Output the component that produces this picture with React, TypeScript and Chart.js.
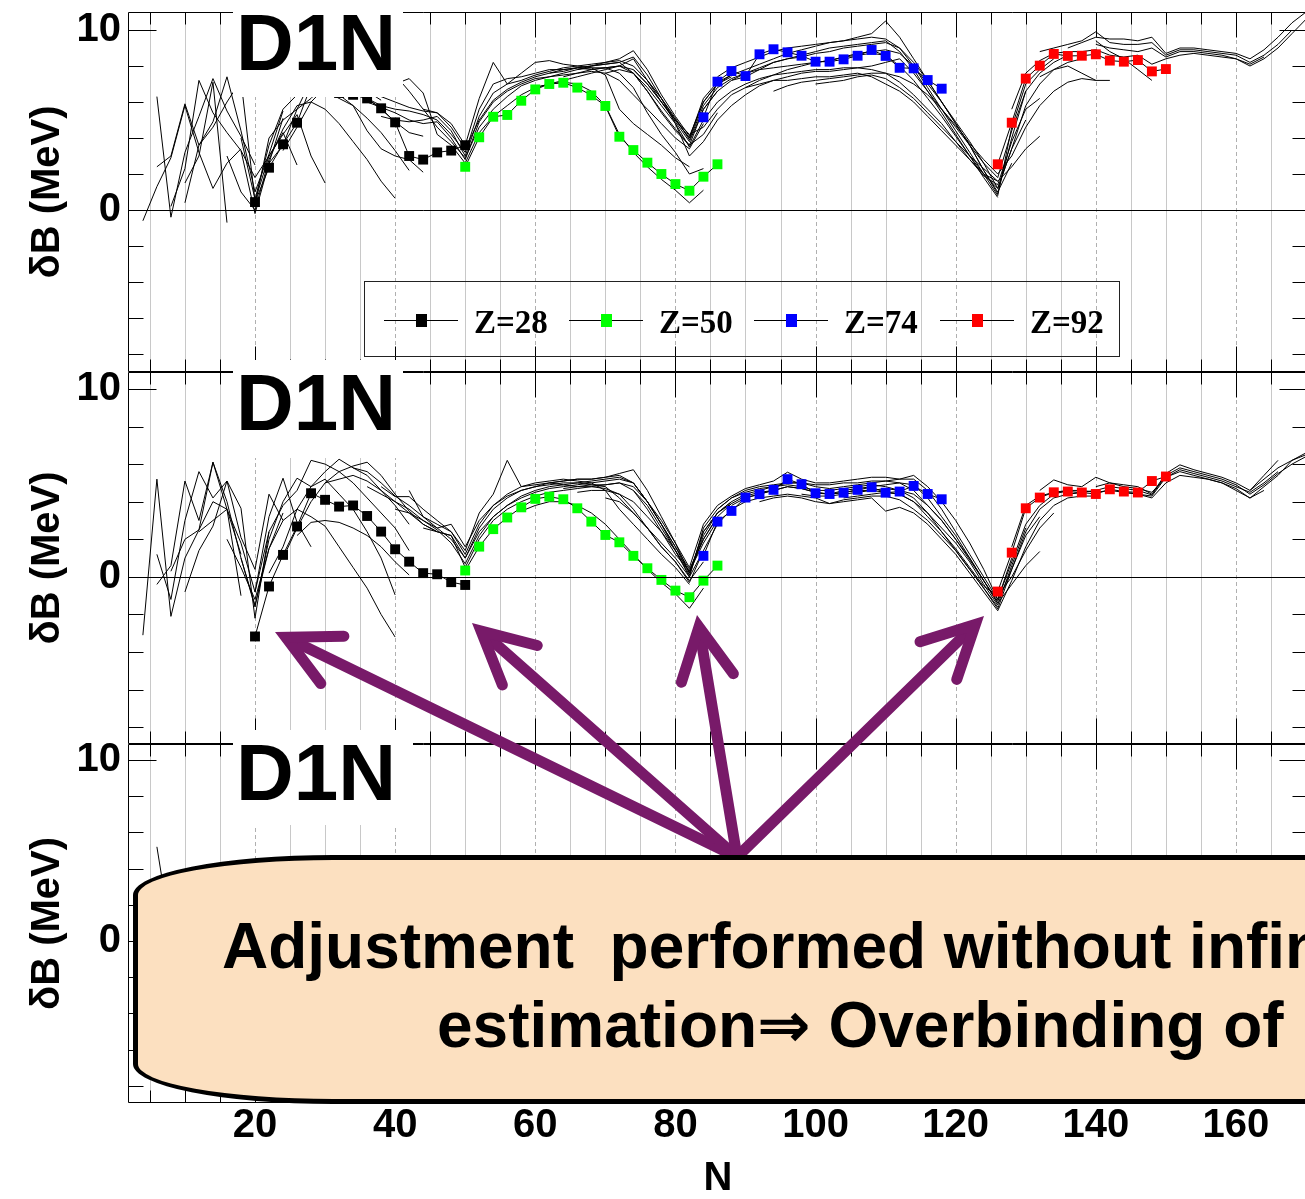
import React, { useEffect, useRef } from "react";
import { Chart, registerables } from "chart.js";

Chart.register(...registerables);

const FONT = '"Liberation Sans", Arial, Helvetica, sans-serif';
const SERIF = '"Liberation Serif", "Times New Roman", serif';

// ---------- axes ----------
const N_MIN = 1.875;
const N_MAX = 170.28;
const N_TICKS = [20, 40, 60, 80, 100, 120, 140, 160];
const DB_TICKS = [-8, -6, -4, -2, 0, 2, 4, 6, 8, 10];
const DB_LABELLED = [10, 0];
const PANEL_MIN = [-9, -8.89, -8.95];
const PANEL_MAX = [11, 10.9, 10.88];
const AXIS_IDS = ["y1", "y2", "y3"];

// ---------- legend ----------
const LEGEND_LABELS = ["Z=28", "Z=50", "Z=74", "Z=92"];
const SERIES_COLORS = ["#000000", "#00ff00", "#0000ff", "#ff0000"];

// ---------- marked chains (panel 1) ----------
const Z28_N = [20, 22, 24, 26, 28, 30, 32, 34, 36, 38, 40, 42, 44, 46, 48, 50];
const Z50_N = [50, 52, 54, 56, 58, 60, 62, 64, 66, 68, 70, 72, 74, 76, 78, 80, 82, 84, 86];
const Z74_N = [84, 86, 88, 90, 92, 94, 96, 98, 100, 102, 104, 106, 108, 110, 112, 114, 116, 118];
const Z92_N = [126, 128, 130, 132, 134, 136, 138, 140, 142, 144, 146, 148, 150];

const P1_Z28 = [0.44, 2.35, 3.65, 4.85, 6.9, 6.7, 6.5, 6.4, 6.2, 5.65, 4.87, 3.0, 2.8, 3.2, 3.3, 3.6];
const P1_Z50 = [2.4, 4.04, 5.18, 5.28, 6.07, 6.7, 7.0, 7.07, 6.8, 6.37, 5.78, 4.07, 3.33, 2.63, 2.0, 1.44, 1.07, 1.85, 2.54];
const P1_Z74 = [5.15, 7.13, 7.72, 7.44, 8.65, 8.93, 8.76, 8.57, 8.24, 8.24, 8.37, 8.57, 8.89, 8.56, 7.9, 7.87, 7.22, 6.74];
const P1_Z92 = [2.54, 4.85, 7.3, 8.02, 8.67, 8.56, 8.57, 8.65, 8.3, 8.24, 8.33, 7.7, 7.83];

// ---------- marked chains (panel 2) ----------
const P2_Z28 = [-3.17, -0.51, 1.17, 2.68, 4.45, 4.1, 3.74, 3.8, 3.24, 2.41, 1.47, 0.81, 0.2, 0.14, -0.28, -0.43];
const P2_Z50 = [0.34, 1.61, 2.54, 3.16, 3.7, 4.15, 4.27, 4.13, 3.65, 2.94, 2.23, 1.84, 1.12, 0.46, -0.16, -0.73, -1.08, -0.2, 0.6];
const P2_Z74 = [1.12, 2.94, 3.51, 4.22, 4.4, 4.63, 5.2, 4.93, 4.45, 4.41, 4.48, 4.63, 4.77, 4.48, 4.54, 4.84, 4.41, 4.13];
const P2_Z92 = [-0.78, 1.29, 3.65, 4.22, 4.5, 4.54, 4.49, 4.41, 4.66, 4.54, 4.49, 5.1, 5.34];

// ---------- other isotopic chains (first N, then values every 2 neutrons) ----------
const P1_STARTS = [4, 6, 6, 8, 10, 10, 16, 18, 18, 20, 22, 24, 30, 34, 36, 38, 40, 40, 44, 60, 62, 64, 66, 70, 74, 76, 86, 88, 90, 94, 100, 128, 132, 136, 140, 132, 140];
const P1_VALUES = [
  [-0.6, 1.3, 2.9, 5.8, 3.2, 1.2, 2.6, 3.4],
  [6.3, -0.4, 3.2, 5.2, 7.3, 5.5, 4.1, 2.5],
  [2.4, 3.0, 5.9, 3.6, 4.9, 7.4, 4.4, 1.0, 3.1, 5.5],
  [0.2, 2.3, 7.2, 5.4, 4.3, 3.3, -0.2, 2.6, 5.1],
  [0.4, 3.6, 4.6, 6.0, 7.2, 0.5, 3.0, 4.3, 2.5],
  [1.5, 3.0, 7.1, -0.7],
  [3.0, 1.0, 0.0, 2.8, 4.5, 5.8, 6.0, 5.6, 4.8, 3.8, 2.8, 1.6, 0.65],
  [4.0, 0.6, 3.6, 5.6, 6.4, 6.8, 6.6, 6.2, 5.8, 5.1, 4.3, 3.3, 2.2],
  [3.3, 1.8, 3.0, 4.2, 5.3, 3.0, 1.5],
  [0.3, 4.0, 5.0, 5.6, 6.2, 7.0, 7.2, 7.0, 6.6, 6.1],
  [2.6, 3.6, 5.6, 7.2, 7.1, 6.6, 6.4, 6.2, 5.6, 4.9, 4.3, 4.1],
  [3.3, 4.6, 6.0, 6.8, 6.4, 5.8, 4.4, 3.4, 3.0, 2.8, 2.1],
  [6.8, 6.6, 6.5, 6.2, 5.8, 5.6, 5.5, 5.3, 5.0, 4.2, 3.2, 5.6, 7.0, 7.3, 7.4, 7.6, 7.8, 7.8, 7.9, 7.8, 7.9, 8.0, 8.4, 7.2, 6.0, 4.9, 3.8, 5.6, 6.6],
  [7.0, 6.6, 6.3, 6.0, 5.7, 5.5, 5.4, 4.8, 3.6, 6.2, 8.2, 7.0, 7.2, 7.5, 7.7, 7.9, 8.0, 8.1, 8.2, 8.4, 8.85, 7.8, 6.4, 5.2, 4.1, 6.0, 7.0, 7.4],
  [6.0, 5.7, 5.4, 5.0, 4.8, 4.9, 4.0, 2.8, 4.9, 6.0, 6.6, 7.0, 7.3, 7.4, 7.5, 7.6, 7.7, 7.6, 7.2, 6.4, 5.6, 4.8, 4.0, 3.4, 4.8],
  [5.2, 5.0, 4.9, 5.0, 5.2, 4.4, 3.0, 5.2, 6.5, 7.0, 7.6, 8.2, 8.3, 8.1, 8.0, 7.9, 7.5, 5.6, 4.8, 4.2, 3.6, 2.9, 2.4],
  [7.0, 7.3, 6.5, 4.2, 3.6, 2.6, 4.3, 5.2, 5.8, 6.4, 6.8, 7.0, 7.2, 7.4, 7.6, 7.8, 8.0, 7.6, 6.6, 5.4, 4.4, 3.6, 4.2, 5.4],
  [7.5, 6.6, 5.6, 4.6, 3.8, 2.9, 4.6, 5.6, 6.3, 6.9, 7.2, 7.4, 7.6, 7.8, 7.9, 7.9, 7.6, 6.8, 5.4, 4.2, 3.2, 2.0, 2.3],
  [5.6, 5.4, 4.6, 3.4, 5.0, 6.1, 6.7, 7.1, 7.4, 7.6, 7.7, 7.9, 8.0, 8.1, 8.2, 8.5, 7.5, 6.2, 5.0, 4.0, 6.2, 7.1, 7.5],
  [6.8, 7.0, 7.1, 7.0, 6.6, 5.8, 4.2, 3.2, 2.4, 1.7, 1.1, 0.4, 1.1],
  [7.6, 7.8, 7.9, 8.0, 8.1, 8.2, 7.6, 6.6, 5.5, 4.5, 3.6, 5.6, 6.6, 7.2, 7.6, 7.9, 8.2, 8.4, 8.6, 8.8, 9.0, 9.1, 9.2, 9.3, 9.4, 8.8, 7.8, 6.6, 5.4, 4.2, 3.0, 1.8, 0.7],
  [7.4, 7.6, 7.8, 7.9, 8.0, 7.8, 7.0, 6.0, 5.0, 4.0, 6.0, 7.0, 7.5, 7.8, 8.1, 8.4, 8.7, 8.9, 9.1, 9.3, 9.4, 9.6, 9.8, 10.5, 9.6, 8.4, 7.2, 6.0, 4.8, 3.6, 2.2, 1.0, 2.6],
  [7.8, 8.0, 8.2, 8.3, 8.0, 7.2, 6.2, 5.1, 3.9, 5.8, 6.8, 7.3, 7.6, 7.8, 7.9, 8.0, 8.1, 8.2, 8.3, 8.5, 8.6, 8.7, 8.6, 8.0, 7.2, 6.2, 5.2, 4.1, 3.0, 2.0, 1.2, 3.4, 5.0],
  [7.6, 7.8, 7.6, 6.8, 5.8, 4.8, 3.5, 5.0, 6.0, 6.6, 7.0, 7.3, 7.5, 7.6, 7.7, 7.8, 7.8, 7.9, 7.9, 7.8, 7.6, 7.1, 6.4, 5.6, 4.8, 3.8, 2.8, 1.9, 1.4, 3.8, 5.6, 6.2],
  [7.8, 7.0, 6.0, 5.0, 4.2, 4.6, 5.6, 6.4, 6.8, 7.0, 7.2, 7.2, 7.3, 7.4, 7.4, 7.5, 7.6, 7.4, 7.0, 6.6, 6.0, 5.2, 4.4, 3.6, 2.8, 2.0, 1.6],
  [7.2, 6.2, 4.8, 3.0, 3.8, 5.0, 5.8, 6.4, 6.9, 7.2, 7.4, 7.6, 7.7, 7.7, 7.8, 7.9, 8.0, 8.2, 8.4, 7.6, 6.6, 5.6, 4.6, 3.6, 2.6, 1.8, 4.4, 6.6],
  [7.4, 7.9, 8.2, 8.5, 8.8, 9.0, 9.1, 9.2, 9.3, 9.4, 9.5, 9.6, 9.5, 9.0, 8.0, 6.8, 5.6, 4.4, 3.2, 2.0, 0.8, 4.6, 7.0, 7.8, 8.4],
  [7.2, 7.4, 7.8, 8.2, 8.4, 8.5, 8.7, 8.8, 9.0, 9.1, 9.2, 9.3, 9.0, 8.2, 7.2, 6.0, 4.8, 3.6, 2.2, 0.9, 4.0, 6.6, 7.6, 8.2, 8.6],
  [6.8, 7.2, 7.5, 7.8, 8.0, 8.2, 8.3, 8.5, 8.7, 8.8, 8.9, 8.7, 8.0, 7.0, 6.0, 4.9, 3.8, 2.6, 1.2, 3.4, 5.8, 7.0, 7.8, 8.2, 8.4],
  [6.6, 6.9, 7.1, 7.2, 7.3, 7.4, 7.5, 7.6, 7.6, 7.4, 7.0, 6.4, 5.6, 4.7, 3.7, 2.8, 2.0, 3.0, 4.6, 5.8, 6.6, 7.1, 7.3, 7.2],
  [7.0, 7.1, 7.2, 7.4, 7.5, 7.3, 6.8, 6.2, 5.4, 4.6, 3.8, 3.0, 2.3, 1.6, 2.4, 3.4, 4.1],
  [5.6, 7.6, 8.3, 8.7, 8.8, 8.8, 8.9, 8.6, 8.5, 8.6, 8.1, 8.4, 8.6, 8.7, 8.6, 8.5, 8.4, 8.1, 8.5],
  [8.8, 9.0, 9.2, 9.4, 9.9, 9.3, 9.2, 9.2, 9.3, 8.6, 8.9, 8.9, 8.8, 8.7, 8.6, 8.2, 8.6, 9.2, 10.0],
  [9.0, 9.3, 9.6, 9.5, 9.5, 9.4, 9.6, 8.7, 9.0, 9.0, 8.9, 8.8, 8.7, 8.4, 8.9, 9.6, 10.4, 11.0],
  [9.2, 9.0, 8.9, 8.8, 9.0, 8.5, 8.8, 8.8, 8.7, 8.6, 8.4, 8.0, 8.4, 9.0, 9.8, 10.6],
  [7.4, 7.8, 8.0, 7.6, 7.2, 7.2],
  [9.4, 8.8, 8.4, 7.8, 7.2],
];

const P2_STARTS = [4, 6, 6, 8, 10, 12, 16, 18, 20, 22, 24, 26, 30, 34, 36, 38, 40, 42, 44, 58, 62, 64, 66, 70, 74, 86, 88, 92, 98, 104, 128, 132, 136, 140, 144, 162];
const P2_VALUES = [
  [-3.1, 5.2, -2.1, 1.0, 2.5, 4.0, 3.6, 1.2],
  [-0.4, 0.6, 5.1, 3.0, 6.1, 3.6, -1.0],
  [1.2, -1.2, 3.0, 5.6, 4.2, 5.1, 3.65, -2.2, 2.4],
  [0.3, 2.0, 2.5, 6.1, 4.0, 1.0, -1.5, 1.5, 3.4],
  [-0.8, 1.4, 2.7, 5.1, 2.1, 0.4, 4.4, 3.0],
  [2.4, 3.0, 3.6, 1.8, -0.8, 3.2, 5.25, 2.9, 1.6],
  [2.0, 0.5, -1.2, 1.5, 3.0, 3.6, 3.2, 2.7, 1.6, 0.5, -0.6, -2.0, -3.2],
  [1.0, -1.6, 2.0, 4.0, 5.25, 4.8, 5.2, 4.4, 3.6, 2.4, 1.0, -0.96],
  [-0.8, 2.4, 3.8, 4.6, 6.2, 6.0, 5.6, 5.0, 4.2, 3.4, 2.6, 1.4],
  [0.2, 1.6, 3.6, 4.8, 5.6, 6.26, 5.8, 5.4, 4.6, 3.8, 2.8],
  [1.0, 2.6, 4.0, 5.0, 5.6, 5.9, 6.1, 5.4, 4.4, 3.5, 2.8, 2.4],
  [2.2, 2.9, 3.0, 2.9, 2.6, 2.2, 1.6, 0.8, 0.1],
  [5.0, 5.2, 5.4, 5.1, 4.6, 4.0, 3.4, 3.0, 2.6, 2.0, 1.0, 2.6, 3.6, 4.2, 4.6, 4.8, 4.9, 5.0, 5.0, 5.1, 5.2, 5.3, 5.0, 4.0, 2.8, 1.6, 0.4, 2.0, 3.2],
  [5.8, 5.6, 5.0, 4.3, 3.8, 3.2, 2.8, 2.4, 1.4, 3.4, 4.4, 6.2, 4.8, 4.9, 5.0, 5.1, 5.2, 5.2, 5.3, 5.5, 5.7, 4.6, 3.2, 1.8, 0.2, 2.4, 3.4, 3.9],
  [4.8, 4.4, 4.0, 3.6, 3.0, 2.5, 1.8, 0.7, 2.2, 3.2, 3.8, 4.3, 4.6, 4.8, 4.9, 5.0, 4.9, 4.8, 4.2, 3.4, 2.6, 1.8, 1.0, 0.0, 1.4],
  [4.8, 4.27, 4.27, 3.6, 3.0, 2.4, 1.2, 2.8, 3.8, 4.4, 4.8, 5.0, 5.1, 5.2, 5.1, 5.0, 4.6, 3.6, 2.8, 2.0, 1.2, 0.5, -0.4],
  [3.6, 3.4, 2.8, 2.4, 2.2, 0.5, 2.0, 3.0, 3.6, 4.0, 4.3, 4.5, 4.6, 4.7, 4.8, 4.9, 5.0, 4.6, 3.6, 2.4, 1.2, 0.3, 1.8, 3.0],
  [4.6, 3.2, 2.6, 2.8, 1.6, 3.0, 3.8, 4.3, 4.6, 4.8, 5.0, 4.9, 4.8, 4.8, 4.7, 4.4, 3.6, 2.6, 1.6, 0.8, -0.2, 0.8],
  [2.6, 2.4, 2.2, 1.0, 2.4, 3.2, 3.8, 4.2, 4.5, 4.7, 4.8, 4.9, 5.0, 5.1, 5.2, 5.0, 4.0, 2.8, 1.4, 0.1, 2.2, 3.4, 4.0],
  [3.5, 3.8, 4.0, 4.0, 3.8, 3.4, 2.8, 2.0, 1.2, 0.4, -0.3, -0.9, -1.67, -0.6],
  [5.0, 5.1, 5.2, 5.2, 5.3, 5.4, 5.0, 4.0, 2.8, 1.6, 0.2, 2.4, 3.4, 4.0, 4.4, 4.6, 4.8, 5.0, 5.0, 4.9, 4.9, 5.0, 5.0, 5.1, 5.1, 5.0, 4.6, 3.8, 3.0, 2.0, 1.0, -0.2, -1.4],
  [4.7, 4.8, 4.9, 4.9, 5.0, 4.8, 4.0, 3.0, 1.8, 0.5, 2.8, 3.8, 4.3, 4.7, 4.9, 5.1, 5.57, 5.2, 5.0, 5.0, 5.1, 5.2, 5.3, 5.3, 5.2, 5.4, 4.8, 4.0, 3.0, 1.8, 0.4, -1.2, 1.0],
  [4.5, 4.6, 4.6, 4.4, 4.0, 3.2, 2.4, 1.4, 0.3, 2.0, 3.2, 3.9, 4.3, 4.5, 4.6, 4.8, 4.7, 4.5, 4.4, 4.5, 4.6, 4.6, 4.5, 4.4, 4.0, 3.4, 2.6, 1.8, 0.8, -0.4, -1.5, 0.6, 2.6],
  [4.2, 4.0, 3.4, 2.6, 1.6, 0.8, -0.3, 1.4, 2.8, 3.6, 4.0, 4.2, 4.3, 4.4, 4.3, 4.2, 3.9, 4.1, 4.2, 4.3, 4.3, 4.1, 3.6, 3.0, 2.2, 1.4, 0.4, -0.6, -1.7, 0.4, 2.2, 3.2],
  [4.6, 3.8, 2.6, 1.4, 0.0, 2.6, 3.6, 4.2, 4.5, 4.7, 4.8, 4.9, 4.8, 4.6, 4.6, 4.7, 4.8, 4.9, 4.8, 4.6, 4.2, 3.4, 2.4, 1.4, 0.4, -0.6, -1.6],
  [3.6, 4.2, 4.6, 4.8, 4.9, 5.0, 5.0, 4.8, 4.7, 4.8, 4.9, 5.0, 5.1, 5.2, 5.2, 4.6, 3.6, 2.4, 1.2, 0.0, -1.2, 0.8, 2.8, 3.8, 4.4, 4.6],
  [3.8, 4.2, 4.4, 4.6, 4.8, 4.7, 4.5, 4.4, 4.6, 4.7, 4.8, 4.9, 5.0, 4.9, 4.2, 3.2, 2.2, 1.0, -0.2, -1.3, 0.4, 2.4, 3.6, 4.2, 4.4, 4.5],
  [4.0, 4.2, 4.3, 4.2, 4.0, 3.9, 4.0, 4.1, 4.2, 3.5, 3.7, 3.4, 2.8, 2.0, 1.2, 0.2, -0.8, -1.8, -0.2, 1.6, 3.0, 3.8, 4.2, 4.3, 4.3],
  [4.4, 4.3, 4.3, 4.4, 4.5, 4.6, 4.7, 4.6, 4.4, 3.8, 3.0, 2.0, 0.9, -0.2, -1.4, -0.4, 0.6, 1.35],
  [4.2, 4.3, 4.4, 4.5, 4.4, 4.0, 3.2, 2.4, 1.5, 0.5, -0.5, -1.0, 0.0, 1.4, 2.6, 3.4],
  [1.6, 3.8, 4.3, 4.5, 4.6, 4.6, 4.5, 4.6, 4.5, 4.4, 4.3, 5.3, 5.7, 5.5, 5.3, 5.1, 4.8, 4.5, 5.0, 5.6],
  [4.6, 5.16, 4.9, 4.8, 5.3, 5.0, 4.9, 4.8, 4.4, 5.5, 5.96, 5.7, 5.5, 5.3, 5.0, 4.6, 5.2, 5.8, 6.2, 6.5],
  [4.4, 4.5, 4.6, 4.8, 4.7, 4.6, 4.36, 5.4, 5.8, 5.6, 5.4, 5.2, 4.9, 4.4, 4.9, 5.5, 6.0, 6.4],
  [4.8, 5.0, 4.8, 4.7, 4.5, 5.3, 5.6, 5.4, 5.2, 5.0, 4.7, 4.19, 4.8, 5.4, 6.2, 6.6],
  [4.5, 4.4, 4.2, 5.0, 5.4, 5.3, 5.2, 5.0, 4.6, 4.2, 4.6],
  [4.6, 5.4, 6.2],
];

const P3_STARTS = [6];
const P3_VALUES = [[5.2, 0.4, 2.2, 3.0, 1.4]];

// ---------- annotations (pixel layout) ----------
const D1N_BOXES = [
  { x: 233, y: 0, w: 170, h: 97, base: 70 },
  { x: 233, y: 360, w: 170, h: 98, base: 430 },
  { x: 233, y: 730, w: 180, h: 95, base: 800 },
];
const LEGEND_X = [384, 569, 754, 940];
const ARROW_FROM = [737, 857];
const ARROW_TIPS = [
  [275, 632],
  [472, 623],
  [697, 615],
  [984, 616],
];

function chainSets(starts: number[], values: number[][], axis: string) {
  return values.map((vals, i) => ({
    data: vals.map((v, k) => ({ x: starts[i] + 2 * k, y: v })),
    yAxisID: axis,
    xAxisID: "x",
    borderColor: "#000",
    borderWidth: 1,
    pointRadius: 0,
    pointHoverRadius: 0,
    tension: 0,
    fill: false,
    order: 2,
  }));
}

function markedSet(ns: number[], vals: number[], color: string, axis: string) {
  return {
    data: vals.map((v, k) => ({ x: ns[k], y: v })),
    yAxisID: axis,
    xAxisID: "x",
    borderColor: "#000",
    borderWidth: 1,
    pointStyle: "rect",
    pointRadius: 7,
    pointHoverRadius: 7,
    pointBackgroundColor: color,
    pointBorderColor: color,
    pointBorderWidth: 0,
    tension: 0,
    fill: false,
    order: 1,
  };
}

function drawArrow(ctx: CanvasRenderingContext2D, from: number[], tip: number[]) {
  const back = Math.atan2(from[1] - tip[1], from[0] - tip[0]);
  const half = (27 * Math.PI) / 180;
  const arm = 58;
  const w = 11;
  const inset = w / 2 / Math.sin(half);
  const tx = tip[0] + inset * Math.cos(back);
  const ty = tip[1] + inset * Math.sin(back);
  ctx.lineWidth = w;
  ctx.lineCap = "round";
  ctx.lineJoin = "round";
  ctx.beginPath();
  ctx.moveTo(from[0], from[1]);
  ctx.lineTo(tx + 6 * Math.cos(back), ty + 6 * Math.sin(back));
  ctx.stroke();
  ctx.lineJoin = "miter";
  ctx.miterLimit = 10;
  ctx.beginPath();
  ctx.moveTo(tx + arm * Math.cos(back - half), ty + arm * Math.sin(back - half));
  ctx.lineTo(tx, ty);
  ctx.lineTo(tx + arm * Math.cos(back + half), ty + arm * Math.sin(back + half));
  ctx.stroke();
}

const panelPlugin = {
  id: "panels",
  beforeDatasetsDraw(chart: any) {
    const ctx = chart.ctx as CanvasRenderingContext2D;
    const xs = chart.scales.x;
    ctx.save();
    ctx.lineWidth = 1;
    for (const id of AXIS_IDS) {
      const ys = chart.scales[id];
      for (let n = 5; n < N_MAX; n += 5) {
        const px = Math.round(xs.getPixelForValue(n)) + 0.5;
        if (px <= xs.left + 1) continue;
        const major = n % 20 === 0;
        ctx.strokeStyle = major ? "#b0b0b0" : "#c8c8c8";
        ctx.setLineDash(major ? [4, 3] : []);
        ctx.beginPath();
        ctx.moveTo(px, ys.top);
        ctx.lineTo(px, ys.bottom);
        ctx.stroke();
      }
    }
    ctx.restore();
  },
  afterDatasetsDraw(chart: any) {
    const ctx = chart.ctx as CanvasRenderingContext2D;
    const xs = chart.scales.x;
    ctx.save();
    ctx.setLineDash([]);
    ctx.strokeStyle = "#000";
    ctx.lineWidth = 1;
    for (const id of AXIS_IDS) {
      const ys = chart.scales[id];
      const L = Math.round(xs.left) + 0.5;
      const R = Math.round(xs.right) - 0.5;
      const T = Math.round(ys.top) + 0.5;
      const B = Math.round(ys.bottom) - 0.5;
      ctx.beginPath();
      ctx.rect(L, T, R - L, B - T);
      const z = Math.round(ys.getPixelForValue(0)) + 0.5;
      ctx.moveTo(L, z);
      ctx.lineTo(R, z);
      for (const v of DB_TICKS) {
        const py = Math.round(ys.getPixelForValue(v)) + 0.5;
        const len = v % 10 === 0 ? 28 : 15;
        ctx.moveTo(L, py);
        ctx.lineTo(L + len, py);
        ctx.moveTo(R, py);
        ctx.lineTo(R - len, py);
      }
      for (let n = 5; n < N_MAX; n += 5) {
        const px = Math.round(xs.getPixelForValue(n)) + 0.5;
        if (px <= L + 1) continue;
        const len = n % 20 === 0 ? 25 : 12;
        ctx.moveTo(px, T);
        ctx.lineTo(px, T + len);
        ctx.moveTo(px, B);
        ctx.lineTo(px, B - len);
      }
      ctx.stroke();
    }

    // D1N tags
    for (const b of D1N_BOXES) {
      ctx.fillStyle = "#fff";
      ctx.fillRect(b.x, b.y, b.w, b.h);
      ctx.fillStyle = "#000";
      ctx.font = `bold 80px ${FONT}`;
      ctx.textAlign = "left";
      ctx.textBaseline = "alphabetic";
      ctx.fillText("D1N", b.x + 3, b.base);
    }

    // legend
    ctx.lineWidth = 1;
    ctx.strokeStyle = "#222";
    ctx.strokeRect(364.5, 281.5, 755, 75);
    LEGEND_LABELS.forEach((lab, i) => {
      const x0 = LEGEND_X[i];
      ctx.strokeStyle = "#000";
      ctx.beginPath();
      ctx.moveTo(x0, 320.5);
      ctx.lineTo(x0 + 74, 320.5);
      ctx.stroke();
      ctx.fillStyle = SERIES_COLORS[i];
      ctx.fillRect(x0 + 32, 314, 11, 13);
      ctx.fillStyle = "#000";
      ctx.font = `bold 33px ${SERIF}`;
      ctx.textBaseline = "alphabetic";
      ctx.fillText(lab, x0 + 90, 333);
    });

    // arrows
    ctx.strokeStyle = "#781a69";
    for (const tip of ARROW_TIPS) drawArrow(ctx, ARROW_FROM, tip);
    ctx.restore();
  },
};

function noPad(s: any) {
  s.paddingTop = 0;
  s.paddingBottom = 0;
  s.paddingLeft = 0;
  s.paddingRight = 0;
}

function yScale(i: number) {
  return {
    type: "linear",
    position: "left",
    stack: "panels",
    stackWeight: [360, 372, 359][i],
    weight: 3 - i,
    min: PANEL_MIN[i],
    max: PANEL_MAX[i],
    afterBuildTicks: (s: any) => {
      s.ticks = DB_TICKS.map((v) => ({ value: v }));
    },
    afterFit: (s: any) => {
      s.width = 128;
      noPad(s);
    },
    grid: { display: false, drawTicks: false },
    border: { display: false },
    ticks: {
      autoSkip: false,
      padding: 7,
      color: "#000",
      font: { family: FONT, size: 40, weight: "bold" },
      callback: (v: any) => (DB_LABELLED.includes(Number(v)) ? String(v) : ""),
    },
    title: {
      display: true,
      text: "δB (MeV)",
      color: "#000",
      font: { family: FONT, size: 40, weight: "bold", lineHeight: 1.2 },
      padding: { top: 24, bottom: 0 },
    },
  };
}

export default function App() {
  const ref = useRef<HTMLCanvasElement>(null);
  useEffect(() => {
    const datasets: any[] = [
      markedSet(Z28_N, P1_Z28, SERIES_COLORS[0], "y1"),
      markedSet(Z50_N, P1_Z50, SERIES_COLORS[1], "y1"),
      markedSet(Z74_N, P1_Z74, SERIES_COLORS[2], "y1"),
      markedSet(Z92_N, P1_Z92, SERIES_COLORS[3], "y1"),
      markedSet(Z28_N, P2_Z28, SERIES_COLORS[0], "y2"),
      markedSet(Z50_N, P2_Z50, SERIES_COLORS[1], "y2"),
      markedSet(Z74_N, P2_Z74, SERIES_COLORS[2], "y2"),
      markedSet(Z92_N, P2_Z92, SERIES_COLORS[3], "y2"),
      ...chainSets(P1_STARTS, P1_VALUES, "y1"),
      ...chainSets(P2_STARTS, P2_VALUES, "y2"),
      ...chainSets(P3_STARTS, P3_VALUES, "y3"),
    ];
    const chart = new Chart(ref.current as HTMLCanvasElement, {
      type: "line",
      data: { datasets },
      options: {
        responsive: false,
        animation: false,
        devicePixelRatio: 1,
        events: [],
        layout: { autoPadding: false, padding: { top: 12, left: 0, right: 0, bottom: 0 } },
        plugins: {
          legend: { display: false },
          tooltip: { enabled: false },
          title: { display: false },
        },
        scales: {
          x: {
            type: "linear",
            position: "bottom",
            min: N_MIN,
            max: N_MAX,
            afterBuildTicks: (s: any) => {
              s.ticks = N_TICKS.map((v) => ({ value: v }));
            },
            afterFit: (s: any) => {
              s.height = 96;
              noPad(s);
            },
            grid: { display: false, drawTicks: false },
            border: { display: false },
            ticks: {
              autoSkip: false,
              maxRotation: 0,
              padding: 3,
              color: "#000",
              font: { family: FONT, size: 40, weight: "bold", lineHeight: 1 },
            },
            title: {
              display: true,
              text: "N",
              color: "#000",
              font: { family: FONT, size: 40, weight: "bold", lineHeight: 1 },
              padding: { top: 0, bottom: 0 },
            },
          },
          y1: yScale(0),
          y2: yScale(1),
          y3: yScale(2),
        } as any,
      },
      plugins: [panelPlugin as any],
    } as any);
    return () => chart.destroy();
  }, []);

  const textStyle: React.CSSProperties = {
    position: "absolute",
    whiteSpace: "pre",
    fontFamily: `${FONT}, "DejaVu Sans"`,
    fontWeight: "bold",
    fontSize: 64,
    lineHeight: "64px",
    color: "#000",
  };

  return (
    <div
      style={{
        position: "absolute",
        left: 0,
        top: 0,
        width: 1305,
        height: 1199,
        overflow: "hidden",
        background: "#fff",
      }}
    >
      <canvas
        ref={ref}
        width={1308}
        height={1199}
        style={{ position: "absolute", left: 0, top: 0, width: 1308, height: 1199 }}
      />
      <div
        style={{
          position: "absolute",
          left: 133,
          top: 855,
          width: 1300,
          height: 249,
          boxSizing: "border-box",
          border: "5px solid #000",
          borderRadius: "200px 0 0 200px / 40px 0 0 40px",
          background: "#fce0c0",
        }}
      />
      <div style={{ ...textStyle, left: 222, top: 914 }}>Adjustment  performed without infinite</div>
      <div style={{ ...textStyle, left: 437, top: 993 }}>estimation⇒ Overbinding of</div>
    </div>
  );
}
